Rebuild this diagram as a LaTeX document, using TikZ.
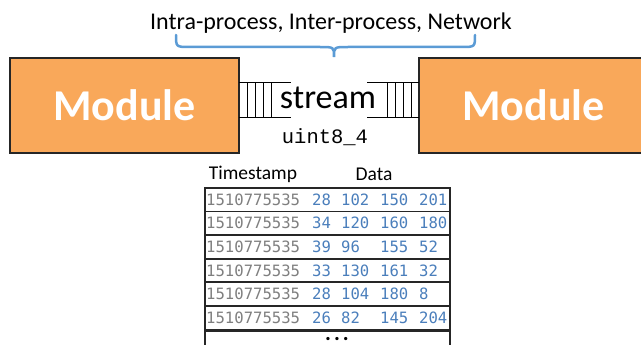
\documentclass[tikz,border=0pt]{standalone}
\usepackage{fontspec}
\setmainfont{Carlito}
\newfontfamily\monofont{DejaVu Sans Mono}
\newfontfamily\codefont{Liberation Mono}
\usetikzlibrary{positioning}
\definecolor{modorange}{HTML}{F9A85A}
\definecolor{braceblue}{HTML}{5B9BD5}
\definecolor{valblue}{HTML}{4A7EBB}
\definecolor{stampgray}{HTML}{7F7F7F}
\tikzset{module/.style={draw=black!85,line width=1.2pt,fill=modorange,
   minimum width=229pt,minimum height=95pt,inner sep=0pt,text=white,
   font=\fontsize{44}{46}\selectfont\bfseries},
 qline/.style={line width=1pt},
 row/.style={draw=black!85,line width=1.8pt,minimum width=245pt,
   minimum height=23.6pt,inner sep=0pt,anchor=north west},
 stamp/.style={font=\monofont\fontsize{15.6}{16}\selectfont,text=stampgray,
   anchor=west,inner sep=0pt},
 val/.style={stamp,text=valblue},
 head/.style={font=\fontsize{19.5}{20}\selectfont},
 }

\begin{document}
\begin{tikzpicture}[x=1pt,y=-1pt]
        \clip (0,0) rectangle (641,345);
        % the two modules
        \node[module] (modA) at (124.5,105.5) {Module};
        \node[module] (modB) at (533.5,105.5) {Module};
        % queues
        \draw[qline] (239,83) -- (291,83) (239,118) -- (291,118);
        \foreach \x in {247,255,263,271}
            \draw[qline] (\x,83) -- (\x,118);
        \draw[qline] (367,83) -- (419,83) (367,118) -- (419,118);
        \foreach \x in {387,395,403,411}
            \draw[qline] (\x,83) -- (\x,118);
        \node[font=\fontsize{34}{36}\selectfont,anchor=base] (strm) at (328,109) {stream};
        \node[font=\codefont\fontsize{20.5}{22}\selectfont,anchor=base] (dtype) at (325,143) {uint8\_4};
        % transport
        \node[font=\fontsize{24}{26}\selectfont,anchor=base] (trans) at (331,30) {Intra-process, Inter-process, Network};
        \draw[braceblue,line width=2.5pt,line cap=round]
            (176,35) .. controls (176,47) .. (190,47) -- (320,47)
            .. controls (334,47) .. (334,57) .. controls (334,47) .. (348,47)
            -- (461,47) .. controls (475,47) .. (475,35);
        % table
        \node[head] (hstamp) at (253,174) {Timestamp};
        \node[head] (hdata) at (374,174) {Data};
        \foreach \a/\b/\c/\d [count=\i] in {28/102/150/201,34/120/160/180,39/96/155/52,
            33/130/161/32,28/104/180/8,26/82/145/204} {
            \node[row] (row\i) at (204,{187+23.6*(\i-1)}) {};
            \node[stamp] at ([xshift=2pt]row\i.west) {1510775535};
            \node[val] at ([xshift=108pt]row\i.west) {\a};
            \node[val] at ([xshift=137pt]row\i.west) {\b};
            \node[val] at ([xshift=176pt]row\i.west) {\c};
            \node[val] at ([xshift=215pt]row\i.west) {\d};
        }
        \node[row,minimum height=30pt,below=0pt of row6] (more) {};
        \node[font=\fontsize{22}{22}\selectfont\bfseries,anchor=base] (dots) at (337,340) {.\hspace{3pt}.\hspace{3pt}.};
    \end{tikzpicture}
\end{document}
